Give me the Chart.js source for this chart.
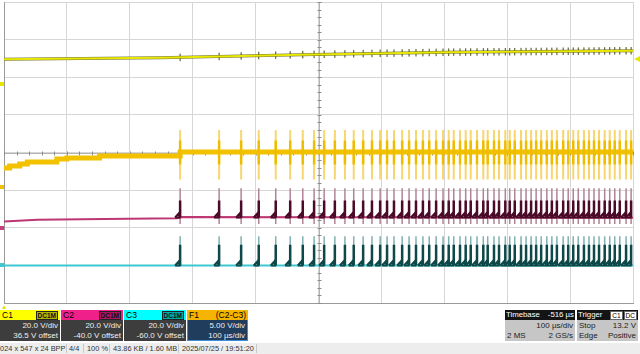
<!DOCTYPE html>
<html>
<head>
<meta charset="utf-8">
<script src="https://cdn.jsdelivr.net/npm/chart.js@4.4.1/dist/chart.umd.min.js"></script>
<style>
body{margin:0;width:640px;height:354px;overflow:hidden;background:#fff;font-family:"Liberation Sans",Arial,sans-serif;position:relative}
#wrap{position:absolute;left:0;top:0;width:640px;height:310px}
.box{position:absolute;top:310px;height:31px;font-size:8px;white-space:nowrap}
.hd{height:10px;line-height:10px;padding:0 2px;display:flex;justify-content:space-between;align-items:center;color:#000;font-size:8.5px}
.bd{height:21px;background:#3d3d3d;color:#eee;padding:1px 2px 0 2px;line-height:9.5px;text-align:right;box-sizing:border-box}
.badge{font-size:6.5px;font-weight:bold;line-height:7px;padding:0 1px;border:1px solid #222;color:#111}
.row{display:flex;justify-content:space-between}
.gray .bd{background:#c6c6c6;color:#222}
.gray .hd{background:#141414;color:#fff;font-size:7.8px;padding:0 1px}
.wb{background:#fff;color:#000;border:1px solid #666;font-size:6.5px;line-height:7px;padding:0 1px;margin-left:1px}
#status{position:absolute;left:0;top:343px;width:640px;height:11px;background:#ededed;font-size:7.4px;color:#333;line-height:11px}
#status span{position:absolute;top:0;white-space:nowrap}
#status i{position:absolute;top:1px;height:9px;width:1px;background:#c8c8c8}
</style>
</head>
<body>
<div id="wrap"><canvas id="scope" width="640" height="310"></canvas></div>

<div class="box" style="left:0;width:60px">
  <div class="hd" style="background:#ffff00"><span>C1</span><span class="badge" style="background:#b4b400">DC1M</span></div>
  <div class="bd"><div>20.0 V/div</div><div>36.5 V offset</div></div>
</div>
<div class="box" style="left:61px;width:62px">
  <div class="hd" style="background:#f0208a"><span>C2</span><span class="badge" style="background:#b01262">DC1M</span></div>
  <div class="bd"><div>20.0 V/div</div><div>-40.0 V offset</div></div>
</div>
<div class="box" style="left:124px;width:62px">
  <div class="hd" style="background:#00ffff"><span>C3</span><span class="badge" style="background:#00a8a8">DC1M</span></div>
  <div class="bd"><div>20.0 V/div</div><div>-60.0 V offset</div></div>
</div>
<div class="box" style="left:187px;width:61px">
  <div class="hd" style="background:#f5b400"><span>F1</span><span>(C2-C3)</span></div>
  <div class="bd" style="background:#213d5e;border:1px solid #3a8fd8;border-top:none"><div>5.00 V/div</div><div>100 µs/div</div></div>
</div>
<div class="box gray" style="left:505px;width:70px">
  <div class="hd"><span>Timebase</span><span>-516 µs</span></div>
  <div class="bd"><div>100 µs/div</div><div class="row"><span>2 MS</span><span>2 GS/s</span></div></div>
</div>
<div class="box gray" style="left:577px;width:61px">
  <div class="hd"><span>Trigger</span><span style="display:flex"><span class="wb">C1</span><span class="wb">DC</span></span></div>
  <div class="bd"><div class="row"><span>Stop</span><span>13.2 V</span></div><div class="row"><span>Edge</span><span>Positive</span></div></div>
</div>

<div id="status">
  <span style="left:-4px">1024 x 547 x 24 BPP</span><i style="left:66px"></i>
  <span style="left:69px">4/4</span><i style="left:83px"></i>
  <span style="left:87px">100 %</span><i style="left:109px"></i>
  <span style="left:113px">43.86 KB / 1.60 MB</span><i style="left:178px"></i>
  <span style="left:182px">2025/07/25 / 19:51:20</span><i style="left:256px"></i>
</div>

<script>
// scope settings (C1, C2, C3, F1)
const voltsPerDiv = [20, 20, 20, 5];
const offsetVolts = [36.5, -40, -60, -4.6];
const triggerLevel = 13.2;

// slow traces, time in µs from left edge, values in V
const c1Times = [0, 248, 359, 471, 704, 1000];
const c1Volts = [13.1, 13.8, 14.7, 15.5, 16.8, 17.6];
const c2Times = [0, 53, 159, 275, 283, 1000];
const c2Volts = [3.3, 4.2, 4.7, 5.1, 5.7, 5.3];
const c3Times = [0, 1000];
const c3Volts = [-0.1, 0.0];
const f1Times = [0, 9, 25, 37, 84, 100, 152, 280, 1000];
const f1Volts = [2.54, 2.81, 3.07, 3.34, 3.74, 3.87, 4.14, 4.67, 4.67];

// switching events (µs)
const spikeTimes = [280, 342, 377, 405, 432, 455, 475, 493, 509, 526, 542, 556, 571, 585, 598,
  609, 620, 633, 644, 655, 666, 676, 687, 698, 707, 715, 725, 734, 742, 752, 762, 769, 779, 787,
  797, 804, 812, 822, 830, 838, 846, 854, 863, 871, 879, 889, 897, 905, 913, 922, 930, 938, 946,
  955, 963, 971, 979, 989, 997];

// spike levels in V
const c2Spike = [2.0, 5.5, 14.5, 21.0];   // low, base, dark top, peak
const c3Spike = [-0.6, 0.0, 11.0, 15.5];
const f1Spike = [1.0, 3.0, 6.2, 7.6];     // low, core low, core high, high
const c1Tick = 2.0;

function toDiv(ch, v){ return (v + offsetVolts[ch]) / voltsPerDiv[ch]; }

function trace(ch, times, volts){
  return times.map((t, i) => ({x: t, y: toDiv(ch, volts[i])}));
}

function segs(ch, lo, hi, dt){
  const out = [];
  spikeTimes.forEach(t => {
    out.push({x: t + dt, y: toDiv(ch, lo)}, {x: t + dt, y: toDiv(ch, hi)}, {x: t + dt, y: null});
  });
  return out;
}

function wedges(ch, base, h){
  const out = [];
  spikeTimes.forEach(t => {
    out.push({x: t - 8, y: toDiv(ch, base)}, {x: t - 1, y: toDiv(ch, base + h)},
      {x: t - 1, y: toDiv(ch, base)}, {x: t - 8, y: toDiv(ch, base)}, {x: t, y: null});
  });
  return out;
}

// C1 value on its trace at time t (to hang the small ripple ticks on)
function c1At(t){
  for (let i = 1; i < c1Times.length; i++){
    if (t <= c1Times[i]){
      const f = (t - c1Times[i-1]) / (c1Times[i] - c1Times[i-1]);
      return c1Volts[i-1] + f * (c1Volts[i] - c1Volts[i-1]);
    }
  }
  return c1Volts[c1Volts.length - 1];
}
const c1Ticks = [];
spikeTimes.forEach(t => {
  const v = c1At(t);
  c1Ticks.push({x: t, y: toDiv(0, v - c1Tick)}, {x: t, y: toDiv(0, v + c1Tick)}, {x: t, y: null});
});

function ds(data, color, width, extra){
  return Object.assign({data: data, borderColor: color, borderWidth: width, pointRadius: 0,
    spanGaps: false, tension: 0, fill: false}, extra || {});
}

var datasets = [
  ds(trace(0, c1Times, c1Volts), '#e8e800', 2),
  ds(c1Ticks, '#4a4a10', 1),
  ds(trace(0, c1Times, c1Volts), 'rgba(70,70,16,0.75)', 3),
  ds(segs(3, f1Spike[1], f1Spike[2], 0), '#efbd00', 2.5),
  ds(trace(3, f1Times, f1Volts), '#f2c200', 5, {stepped: true}),
  ds(segs(3, f1Spike[0], f1Spike[3], 0), '#f7d670', 2),
  ds(segs(1, c2Spike[1], c2Spike[2], 0), '#4a0a28', 2.5),
  ds(wedges(1, c2Spike[1], 2.6), '#4a0a28', 2),
  ds(trace(1, c2Times, c2Volts), '#bc3672', 2),
  ds(segs(1, c2Spike[0], c2Spike[3], 0), '#b08498', 1.5),
  ds(segs(2, c3Spike[1], c3Spike[2], 0), '#0e4848', 2.5),
  ds(wedges(2, c3Spike[1], 2.6), '#0e4848', 2),
  ds(trace(2, c3Times, c3Volts), '#3cc8d0', 2),
  ds(segs(2, c3Spike[0], c3Spike[3], 0), '#80b0b0', 1.5)
];

const scopeMarks = {
  id: 'scopeMarks',
  beforeDatasetsDraw(chart){
    const c = chart.ctx, xs = chart.scales.x, ys = chart.scales.y;
    const xc = Math.round(xs.getPixelForValue(500)) + 0.5;
    const yc = Math.round(ys.getPixelForValue(0)) + 0.5;
    c.save();
    c.strokeStyle = '#b4b4b4';
    c.lineWidth = 1;
    c.beginPath();
    c.moveTo(xc, chart.chartArea.top); c.lineTo(xc, chart.chartArea.bottom);
    c.moveTo(chart.chartArea.left, yc); c.lineTo(chart.chartArea.right, yc);
    c.stroke();
    c.strokeStyle = '#8c8c8c';
    c.beginPath();
    for (let k = 0; k <= 50; k++){
      const x = Math.round(xs.getPixelForValue(k * 20)) + 0.5;
      c.moveTo(x, yc - 2); c.lineTo(x, yc + 2);
    }
    for (let k = 0; k <= 40; k++){
      const y = Math.round(ys.getPixelForValue(-4 + k * 0.2)) + 0.5;
      c.moveTo(xc - 2, y); c.lineTo(xc + 2, y);
    }
    c.stroke();
    c.restore();
  },
  afterDraw(chart){
    const c = chart.ctx, xs = chart.scales.x, ys = chart.scales.y;
    const colors = ['#e6e600', '#c8407a', '#40c8d0', '#f2c200'];
    c.save();
    colors.forEach((col, ch) => {
      const y = ys.getPixelForValue(toDiv(ch, 0));
      c.fillStyle = col;
      c.fillRect(0, Math.round(y) - 2, 4, 4);
    });
    const ty = ys.getPixelForValue(toDiv(0, triggerLevel));
    c.fillStyle = '#e6e600';
    c.beginPath();
    c.moveTo(634, ty); c.lineTo(640, ty - 3); c.lineTo(640, ty + 3); c.closePath();
    c.fill();
    const tx = xs.getPixelForValue(0);
    c.beginPath();
    c.moveTo(tx - 2, 309); c.lineTo(tx + 2, 309); c.lineTo(tx, 305); c.closePath();
    c.fill();
    c.restore();
  }
};

const ctx = document.getElementById('scope');
var chart = new Chart(ctx, {
  type: 'line',
  data: {datasets: datasets},
  options: {
    responsive: false,
    animation: false,
    devicePixelRatio: 1,
    layout: {padding: {left: 4, top: 2, right: 7, bottom: 7}},
    plugins: {legend: {display: false}, tooltip: {enabled: false}},
    scales: {
      x: {type: 'linear', min: 0, max: 1000,
        ticks: {display: false, stepSize: 100},
        grid: {color: '#d6d6d6', drawTicks: false},
        border: {color: '#9a9a9a'}},
      y: {type: 'linear', min: -4, max: 4,
        ticks: {display: false, stepSize: 1},
        grid: {color: '#d6d6d6', drawTicks: false},
        border: {color: '#9a9a9a'}}
    }
  },
  plugins: [scopeMarks]
});
</script>
</body>
</html>
